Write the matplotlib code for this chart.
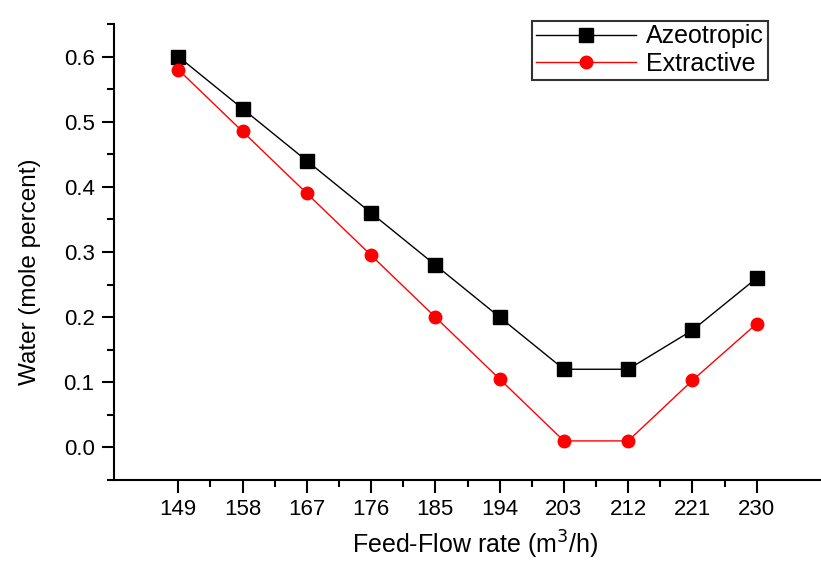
import matplotlib
matplotlib.use("Agg")
import matplotlib.pyplot as plt
from matplotlib.ticker import MultipleLocator, FixedLocator

plt.rcParams['font.family'] = ['Liberation Sans', 'DejaVu Sans']

flow_rates = ["149", "158", "167", "176", "185", "194", "203", "212", "221", "230"]
azeotropic = [0.60, 0.52, 0.44, 0.36, 0.28, 0.20, 0.12, 0.12, 0.18, 0.26]
extractive = [0.58, 0.485, 0.39, 0.295, 0.20, 0.105, 0.01, 0.01, 0.103, 0.19]

fig = plt.figure(figsize=(8.21, 5.61), dpi=100)
ax = fig.add_axes([114/821, 1-480/561, 1-114/821, (480-24)/561])

x = list(range(len(flow_rates)))
ax.plot(x, azeotropic, color='black', lw=1, marker='s', ms=10, label='Azeotropic')
ax.plot(x, extractive, color='red', lw=1, marker='o', ms=9, label='Extractive')

ax.set_xlim(-1, 10)
ax.set_ylim(-0.05, 0.65)
ax.set_xticks(x)
ax.set_xticklabels(flow_rates)
ax.xaxis.set_minor_locator(FixedLocator([i + 0.5 for i in range(len(x) - 1)]))
ax.yaxis.set_minor_locator(MultipleLocator(0.05))
ax.set_yticks([0.0, 0.1, 0.2, 0.3, 0.4, 0.5, 0.6])
ax.set_yticklabels(["0.0", "0.1", "0.2", "0.3", "0.4", "0.5", "0.6"])

for s in ['top', 'right']:
    ax.spines[s].set_visible(False)
for s in ['left', 'bottom']:
    ax.spines[s].set_linewidth(1.5)

ax.tick_params(which='major', direction='out', length=9, width=1.5, labelsize=16, pad=5)
ax.tick_params(which='minor', direction='out', length=5, width=1.5)

fig.text(475/821, 1-545/561, "Feed-Flow rate (m$^3$/h)", fontsize=18, ha='center', va='center')
fig.text(30/821, 1-272/561, "Water (mole percent)", fontsize=17.5, ha='center', va='center',
         rotation=90)

leg = fig.legend(loc='upper right', bbox_to_anchor=(780/821, 1-8/561), fontsize=18,
                 frameon=True, fancybox=False, edgecolor='black', handlelength=4,
                 borderpad=0.15, labelspacing=0.15, handletextpad=0.4)
leg.get_frame().set_linewidth(1.5)

fig.savefig("out.png", dpi=100)
